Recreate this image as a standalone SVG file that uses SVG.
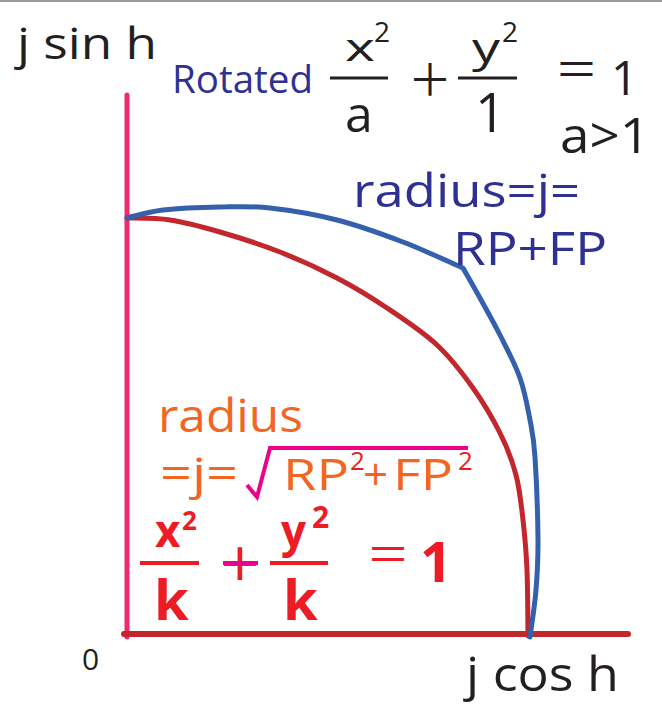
<svg xmlns="http://www.w3.org/2000/svg" width="662" height="705" viewBox="0 0 662 705">
<style>
text{font-family:"Open Sans","Noto Sans","DejaVu Sans",sans-serif}
.cjk{font-family:"Noto Sans CJK TC","Noto Sans CJK SC",sans-serif}
.k{fill:#231f20}
.b{fill:#2e3192}
.o{fill:#f26522}
.r{fill:#ed1c24;font-weight:bold}
.rs{fill:#ed1c24}
.fl{stroke:#231f20;stroke-width:3}
.rl{stroke:#ed1c24;stroke-width:4}
</style>
<rect width="662" height="705" fill="#fff"/>
<line x1="0" y1="1" x2="662" y2="1" stroke="#999" stroke-width="2"/>
<g id="connectors" fill="none" stroke-linecap="round" stroke-linejoin="round">
<line id="y-axis" x1="127" y1="95" x2="127" y2="637" stroke="#ee2b6d" stroke-width="5"/>
<line id="x-axis" x1="124" y1="634" x2="628" y2="634" stroke="#c1272d" stroke-width="6"/>
<path id="red-curve" stroke="#c1272d" stroke-width="5" d="M127,218 C134.2,218.3 154.5,217.7 170,220 C185.5,222.3 201.7,226.7 220,232 C238.3,237.3 260.5,244.3 280,252 C299.5,259.7 319.2,268.7 337,278 C354.8,287.3 370.3,296.8 387,308 C403.7,319.2 422.7,331.7 437,345 C451.3,358.3 462.5,373.3 473,388 C483.5,402.7 492.8,418.5 500,433 C507.2,447.5 512.2,460.5 516,475 C519.8,489.5 521.2,504.2 523,520 C524.8,535.8 526.2,550.7 527,570 C527.8,589.3 527.8,625 528,636"/>
<path id="blue-curve" stroke="#3560ab" stroke-width="5" d="M127,218 C133,216.7 147.5,211.8 163,210 C178.5,208.2 202.2,207.3 220,207 C237.8,206.7 250.5,205.8 270,208 C289.5,210.2 314.8,214.3 337,220 C359.2,225.7 382,234 403,242 C424,250 453,263.7 463,268 C465.8,273 473.8,286.8 480,298 C486.2,309.2 493.3,321.7 500,335 C506.7,348.3 515,363.8 520,378 C525,392.2 527.5,406.8 530,420 C532.5,433.2 533.7,437 535,457 C536.3,477 537.8,517.8 538,540 C538.2,562.2 537.3,573.8 536,590 C534.7,606.2 531,629.2 530,637"/>
</g>
<g id="axis-labels">
<text class="k" x="17" y="59" font-size="44" textLength="140" lengthAdjust="spacingAndGlyphs">j sin h</text>
<text class="k" x="82" y="670" font-size="30">0</text>
<text class="k" x="466" y="691" font-size="48" textLength="153" lengthAdjust="spacingAndGlyphs">j cos h</text>
</g>
<g id="rotated-formula">
<text class="b" x="172" y="93" font-size="38" textLength="141" lengthAdjust="spacingAndGlyphs">Rotated</text>
<text class="k" x="345" y="61" font-size="38" textLength="30" lengthAdjust="spacingAndGlyphs">x</text>
<text class="k" x="374" y="42" font-size="28">2</text>
<line class="fl" x1="330" y1="78" x2="388" y2="78"/>
<text class="k" x="345" y="132" font-size="50">a</text>
<text class="k cjk" x="430" y="95.5" font-size="44" text-anchor="middle">＋</text>
<text class="k" x="472" y="62" font-size="40" textLength="28" lengthAdjust="spacingAndGlyphs">y</text>
<text class="k" x="502" y="42" font-size="28">2</text>
<line class="fl" x1="458" y1="78" x2="517" y2="78"/>
<text class="k" x="475" y="132" font-size="54">1</text>
<text class="k cjk" x="554.5" y="85.5" font-size="44">＝</text>
<text class="k" x="611" y="95" font-size="47">1</text>
<text class="k" x="560" y="153" font-size="50" textLength="90" lengthAdjust="spacingAndGlyphs">a&gt;1</text>
</g>
<g id="blue-label">
<text class="b" x="353" y="207" font-size="46" textLength="227" lengthAdjust="spacingAndGlyphs">radius=j=</text>
<text class="b" x="453" y="265" font-size="45" textLength="154" lengthAdjust="spacingAndGlyphs">RP+FP</text>
</g>
<g id="orange-label">
<text class="o" x="158" y="432" font-size="46" textLength="145" lengthAdjust="spacingAndGlyphs">radius</text>
<text class="o" x="160" y="489" font-size="44" textLength="78" lengthAdjust="spacingAndGlyphs">=j=</text>
<polyline points="247,485 257,497 270,448 468,448" fill="none" stroke="#ec008c" stroke-width="4"/>
<text class="o" x="283" y="490" font-size="44" textLength="66" lengthAdjust="spacingAndGlyphs">RP</text>
<text class="rs" x="350" y="470" font-size="26">2</text>
<text class="o" x="363" y="490" font-size="44">+</text>
<text class="o" x="393" y="490" font-size="44" textLength="60" lengthAdjust="spacingAndGlyphs">FP</text>
<text class="rs" x="458" y="470" font-size="26">2</text>
</g>
<g id="red-formula">
<text class="r" font-size="44"><tspan x="155" y="547">x</tspan><tspan x="182" y="530" font-size="26">2</tspan></text>
<line class="rl" x1="140" y1="563" x2="199" y2="563"/>
<text class="r" x="154" y="620" font-size="56">k</text>
<text class="rs" x="240" y="588" font-size="68" text-anchor="middle">+</text>
<line x1="223" y1="563" x2="258" y2="563" stroke="#ec008c" stroke-width="4"/>
<text class="r" font-size="44"><tspan x="281" y="547">y</tspan><tspan x="312" y="528" font-size="30">2</tspan></text>
<line class="rl" x1="270" y1="563" x2="328" y2="563"/>
<text class="r" x="283" y="620" font-size="56">k</text>
<text class="rs cjk" x="366" y="571" font-size="44">＝</text>
<text class="r" x="420" y="582" font-size="56">1</text>
</g>
</svg>
